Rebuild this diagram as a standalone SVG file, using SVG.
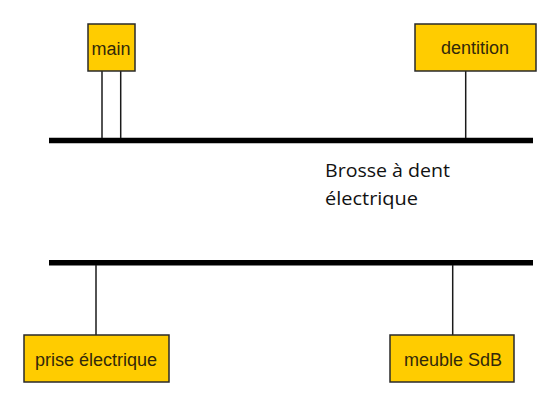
<svg xmlns="http://www.w3.org/2000/svg" width="560" height="405" viewBox="0 0 560 405">
<style>
.box{fill:#FFCC00;stroke:#2a2a2a;stroke-width:1.5}
.lbl{font-family:"Liberation Sans",Arial,sans-serif;font-size:18px;fill:#33290a;text-anchor:middle}
.bus{stroke:#000;stroke-width:5.5;fill:none}
.link{stroke:#1a1a1a;stroke-width:1.5;fill:none}
.note{font-family:"Open Sans","Noto Sans",sans-serif;font-size:18.5px;fill:#111}
</style>
<rect width="560" height="405" fill="#fff"/>
<g id="connectors">
<line class="bus" x1="49" y1="140.5" x2="533" y2="140.5"/>
<line class="bus" x1="49" y1="262.7" x2="533" y2="262.7"/>
<line class="link" x1="102" y1="71" x2="102" y2="138"/>
<line class="link" x1="120.7" y1="71" x2="120.7" y2="138"/>
<line class="link" x1="465.7" y1="71" x2="465.7" y2="138"/>
<line class="link" x1="96" y1="265" x2="96" y2="335"/>
<line class="link" x1="452.7" y1="265" x2="452.7" y2="335"/>
</g>
<g id="main">
<rect class="box" x="88" y="24" width="47" height="47"/>
<text class="lbl" x="111" y="55">main</text>
</g>
<g id="dentition">
<rect class="box" x="415" y="24" width="121" height="47"/>
<text class="lbl" x="475" y="54">dentition</text>
</g>
<g id="prise">
<rect class="box" x="24" y="335" width="145" height="47"/>
<text class="lbl" x="96" y="366">prise électrique</text>
</g>
<g id="meuble">
<rect class="box" x="390" y="335" width="124" height="47"/>
<text class="lbl" x="453" y="366">meuble SdB</text>
</g>
<g id="label">
<text class="note" x="325" y="176.5" textLength="125" lengthAdjust="spacingAndGlyphs">Brosse à dent</text>
<text class="note" x="325" y="205" textLength="93" lengthAdjust="spacingAndGlyphs">électrique</text>
</g>
</svg>
